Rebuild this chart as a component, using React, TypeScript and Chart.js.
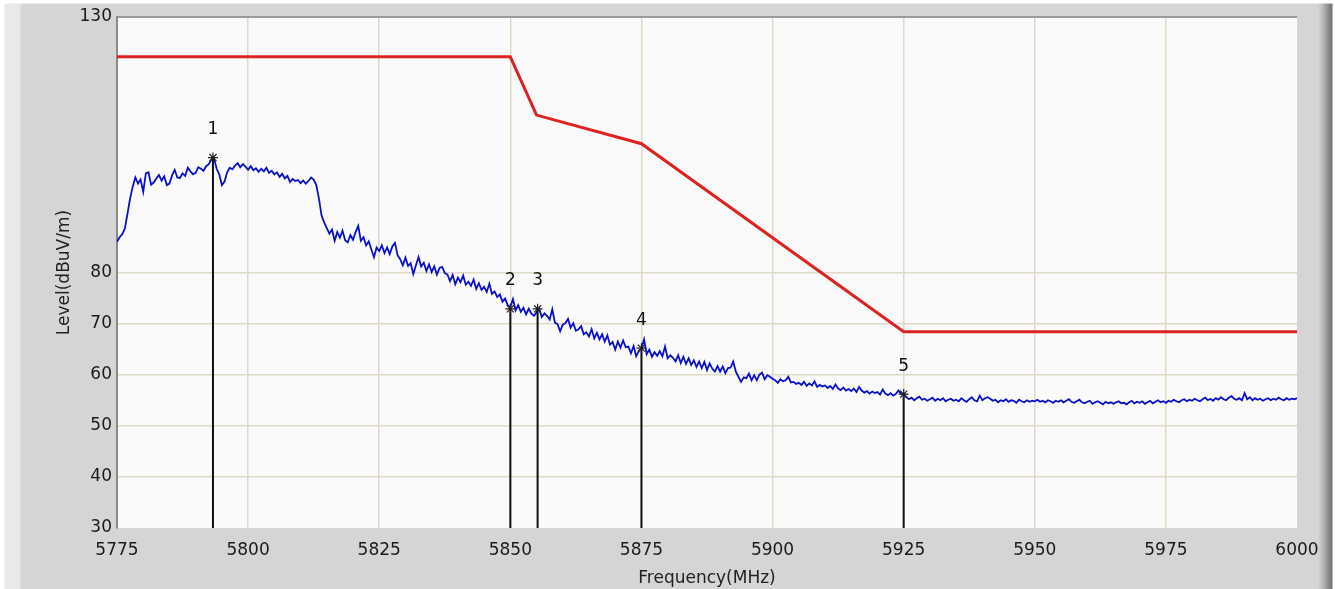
import React, { useEffect, useRef } from "react";
import { Chart, registerables } from "chart.js";

Chart.register(...registerables);

const FONT = "'DejaVu Sans', 'Liberation Sans', sans-serif";

const xTickValues = [5775, 5800, 5825, 5850, 5875, 5900, 5925, 5950, 5975, 6000];
const yTickValues = [30, 40, 50, 60, 70, 80, 130];
const xTitle = "Frequency(MHz)";
const yTitle = "Level(dBuV/m)";

const limitFreqs = [5775, 5850, 5855, 5875, 5925, 6000];
const limitLevels = [122.2, 122.2, 110.8, 105.2, 68.4, 68.4];

const traceStartFreq = 5775;
const traceStepMHz = 0.5;
const traceLevels = [
  86.0, 86.9, 87.5, 88.6, 91.5, 94.5, 96.8, 98.6, 97.4, 98.2,
  95.8, 99.4, 99.6, 97.2, 97.6, 98.4, 99.1, 98.0, 98.8, 97.1,
  97.4, 99.0, 100.1, 98.6, 98.5, 99.4, 98.9, 100.5, 99.8, 99.2,
  99.5, 100.6, 100.3, 99.9, 100.8, 101.2, 102.1, 102.4, 100.3, 99.2,
  97.1, 97.8, 99.6, 100.5, 100.2, 100.9, 101.4, 100.6, 101.2, 100.7,
  100.1, 100.8, 100.0, 100.4, 99.7, 100.3, 99.8, 100.5, 99.5, 99.9,
  99.2, 99.6, 98.7, 99.3, 98.4, 98.9, 97.7, 98.3, 97.9, 98.1,
  97.5, 98.0, 97.4, 97.9, 98.6, 98.2, 97.1, 94.5, 91.2, 89.8,
  88.7, 87.6, 88.4, 86.2, 87.9, 86.8, 88.2, 86.3, 85.9, 87.3,
  86.4, 87.9, 89.1, 86.2, 86.9, 85.3, 86.1, 84.5, 83.0, 84.9,
  84.2, 85.3, 83.8, 84.9, 83.6, 85.1, 85.8, 83.4, 82.6, 81.4,
  82.9, 81.3, 81.8, 79.7, 81.4, 83.0, 81.2, 81.9, 80.3, 81.6,
  80.1, 81.2, 79.6, 80.9, 81.1, 79.9, 79.6, 78.3, 79.5, 77.7,
  79.0, 78.1, 79.4, 77.6, 78.2, 77.4, 78.6, 76.8, 77.9, 76.6,
  77.2, 76.2, 77.8, 75.8, 76.3, 75.2, 75.7, 74.3, 74.9, 73.6,
  73.2, 74.8, 72.6, 73.6, 72.3, 73.1, 71.8, 72.9, 72.0, 71.5,
  72.2, 72.9, 71.3, 72.0, 71.5, 70.8, 72.8, 70.2, 69.9, 68.5,
  69.8, 70.1, 70.9, 69.2, 70.1, 68.6, 68.9, 69.5, 67.9, 68.3,
  67.5, 68.9, 67.1, 68.2, 66.9, 67.9, 66.5, 67.7, 65.9, 66.4,
  64.9, 66.5, 65.3, 66.7, 65.4, 65.5, 64.2, 65.6, 63.6, 64.6,
  65.2, 66.9, 64.0, 64.9, 63.5, 64.4, 63.7, 64.6, 63.6, 65.5,
  63.2, 63.8, 63.3, 62.6, 63.8, 62.3, 63.5, 62.1, 63.2, 61.9,
  62.8, 61.5, 62.6, 61.3, 62.5, 60.9, 62.2, 61.2, 60.6, 61.7,
  60.6, 61.6, 60.3, 61.3, 61.4, 62.6, 60.6, 59.6, 58.6, 59.5,
  59.3, 60.2, 58.9, 59.9, 58.9, 60.0, 60.4, 59.1, 59.9, 59.6,
  59.2, 58.9, 58.4, 59.1, 58.7, 58.9, 59.6, 58.5, 58.6, 58.2,
  58.4, 58.0, 58.6, 57.8, 58.3, 57.9, 58.7, 57.6, 58.0, 57.7,
  57.9, 57.4, 57.8, 57.2, 58.1, 57.3, 57.0, 57.5, 56.9, 57.2,
  56.8, 57.3, 56.6, 57.6, 56.9, 56.5, 56.8, 56.3, 56.7, 56.4,
  56.6, 56.1, 57.1, 56.3, 56.0, 56.4, 55.9, 56.2, 56.9, 56.3,
  56.2, 55.6, 55.2, 55.5, 55.0, 55.4, 55.7, 55.1, 55.3, 54.9,
  55.2, 55.5, 54.9, 55.3, 55.0, 55.4, 54.8, 55.1, 55.3, 54.9,
  55.1, 54.8, 55.4, 55.0, 54.7, 55.2, 55.6, 55.0, 54.8, 55.9,
  55.0, 55.4, 55.6, 55.3, 54.9, 55.1, 54.6, 55.0, 54.8, 55.2,
  54.7, 55.0, 54.9, 54.5, 55.1, 54.8, 54.6, 55.0, 54.7, 54.9,
  54.8, 55.1, 54.7, 54.9, 54.6, 55.0, 54.8, 54.5, 54.9, 54.7,
  55.0, 54.6, 54.9, 55.2, 54.7, 54.5, 54.8, 55.1, 54.6, 54.4,
  54.7, 54.9, 54.3, 54.6, 54.8, 54.5, 54.2, 54.7, 54.4, 54.6,
  54.3, 54.6, 54.8, 54.4, 54.5, 54.2, 54.6, 54.9, 54.4, 54.7,
  54.5, 54.8, 54.3, 54.6, 54.9, 54.4, 54.7, 55.0, 54.6, 54.8,
  54.5, 54.9, 54.7, 55.1, 54.8, 54.6, 55.0, 55.2, 54.8, 55.1,
  54.9, 55.3, 55.0, 54.8, 55.2, 55.5, 55.0, 55.3, 54.9, 55.4,
  55.1, 55.6, 55.2, 55.0, 55.5, 55.8, 55.3, 55.1, 55.4, 55.0,
  56.4, 55.2, 55.6, 55.0, 55.4, 55.1, 55.3, 54.9, 55.2, 55.4,
  55.0, 55.3, 55.1, 55.5, 55.2, 55.0, 55.4, 55.1, 55.3, 55.2,
  55.4,
];

const markerLabels = ["1", "2", "3", "4", "5"];
const markerFreqs = [5793.3, 5850, 5855.2, 5875, 5925];
const markerLevels = [102.5, 72.9, 72.9, 65.2, 56.2];

const plotBgPlugin = {
  id: "plotBg",
  beforeDraw(chart: any) {
    const { ctx, chartArea: a } = chart;
    ctx.save();
    ctx.fillStyle = "#fafafa";
    ctx.fillRect(a.left, a.top, a.right - a.left, a.bottom - a.top);
    ctx.restore();
  },
};

const markerLabelPlugin = {
  id: "markerLabels",
  afterDatasetsDraw(chart: any) {
    const { ctx } = chart;
    const xs = chart.scales.x;
    const ys = chart.scales.y;
    ctx.save();
    ctx.font = `17px ${FONT}`;
    ctx.fillStyle = "#111111";
    ctx.textAlign = "center";
    ctx.textBaseline = "middle";
    markerLabels.forEach((t, i) => {
      ctx.fillText(t, xs.getPixelForValue(markerFreqs[i]), ys.getPixelForValue(markerLevels[i]) - 28);
    });
    ctx.restore();
  },
};

export default function App() {
  const canvasRef = useRef<HTMLCanvasElement | null>(null);

  useEffect(() => {
    if (!canvasRef.current) return;

    const markerSets = markerFreqs.map((f, i) => ({
      label: "Marker " + markerLabels[i],
      data: [
        { x: f, y: markerLevels[i] },
        { x: f, y: 30 },
      ],
      borderColor: "#111111",
      borderWidth: 2,
      pointRadius: [5, 0],
      pointStyle: "star",
      pointBorderColor: "#222222",
      pointBorderWidth: 1.2,
      fill: false,
    }));

    const chart = new Chart(canvasRef.current, {
      type: "line",
      data: {
        datasets: [
          ...markerSets,
          {
            label: "Trace",
            data: traceLevels.map((v, i) => ({ x: traceStartFreq + i * traceStepMHz, y: v })),
            borderColor: "#0a10c8",
            borderWidth: 1.8,
            pointRadius: 0,
            tension: 0,
            fill: false,
          },
          {
            label: "Limit",
            data: limitFreqs.map((f, i) => ({ x: f, y: limitLevels[i] })),
            borderColor: "#dd2222",
            borderWidth: 3,
            pointRadius: 0,
            tension: 0,
            fill: false,
          },
        ] as any,
      },
      options: {
        animation: false,
        responsive: false,
        maintainAspectRatio: false,
        devicePixelRatio: 1,
        layout: { padding: { left: 0, top: 17, right: 38, bottom: 0 } },
        plugins: {
          legend: { display: false },
          tooltip: { enabled: false },
        },
        scales: {
          x: {
            type: "linear",
            min: 5775,
            max: 6000,
            afterBuildTicks: (scale: any) => {
              scale.ticks = xTickValues.map((v) => ({ value: v }));
            },
            afterFit: (scale: any) => {
              scale.height = 61;
            },
            ticks: {
              padding: 12,
              color: "#1a1a1a",
              font: { family: FONT, size: 17 },
              maxRotation: 0,
              autoSkip: false,
              callback: (v: any) => String(v),
            },
            grid: {
              drawTicks: false,
              color: (c: any) =>
                c.tick && (c.tick.value === 5775 || c.tick.value === 6000) ? "rgba(0,0,0,0)" : "#dfdac6",
              lineWidth: 1.5,
            },
            border: { display: false },
            title: {
              display: true,
              text: xTitle,
              color: "#222222",
              font: { family: FONT, size: 17 },
              padding: { top: 0, bottom: 0 },
            },
          },
          y: {
            type: "linear",
            min: 30,
            max: 130,
            afterBuildTicks: (scale: any) => {
              scale.ticks = yTickValues.map((v) => ({ value: v }));
            },
            afterFit: (scale: any) => {
              scale.width = 117;
            },
            ticks: {
              padding: 5,
              color: "#1a1a1a",
              font: { family: FONT, size: 17 },
              autoSkip: false,
              callback: (v: any) => String(v),
            },
            grid: {
              drawTicks: false,
              color: (c: any) => {
                if (!c.tick) return "#dfdac6";
                if (c.tick.value === 130) return "#9a9a9a";
                if (c.tick.value === 30) return "rgba(0,0,0,0)";
                return "#dfdac6";
              },
              lineWidth: (c: any) => (c.tick && c.tick.value === 130 ? 2 : 1.5),
            },
            border: { display: true, color: "#8a8a8a", width: 2 },
            title: {
              display: true,
              text: yTitle,
              color: "#222222",
              font: { family: FONT, size: 17 },
              padding: { top: 54, bottom: 0 },
            },
          },
        },
      },
      plugins: [plotBgPlugin, markerLabelPlugin],
    } as any);

    return () => chart.destroy();
  }, []);

  return (
    <div
      style={{
        position: "fixed",
        left: 0,
        top: 0,
        width: 1335,
        height: 589,
        background:
          "linear-gradient(to bottom, #ffffff 0px, #ffffff 3px, rgba(0,0,0,0) 4px), " +
          "linear-gradient(to right, #ffffff 0px, #ffffff 4px, #e9e9e9 5px, #e9e9e9 19px, #d5d5d5 22px, #d5d5d5 1318px, #b0b0b0 1324px, #707070 1332px, #ffffff 1333px)",
      }}
    >
      <canvas ref={canvasRef} width={1335} height={589} style={{ display: "block" }} />
    </div>
  );
}
